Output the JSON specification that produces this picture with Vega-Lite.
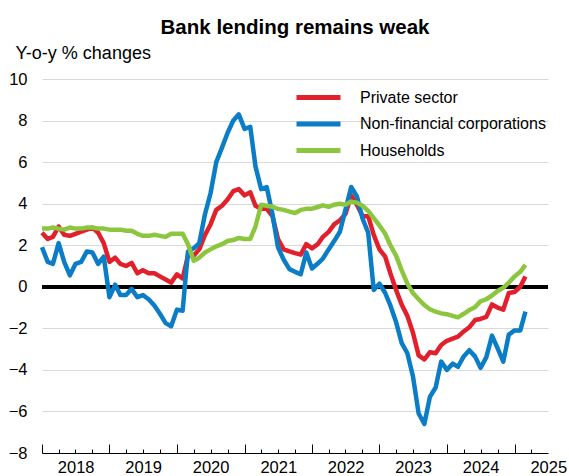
{
  "$schema": "https://vega.github.io/schema/vega-lite/v6.json",
  "width": 506,
  "height": 374,
  "autosize": "none",
  "padding": {"left": 42, "top": 79, "right": 21, "bottom": 23},
  "background": "white",
  "config": {"view": {"stroke": null}, "font": "Liberation Sans"},
  "title": {"text": "Bank lending remains weak", "fontSize": 20.5, "fontWeight": "bold", "font": "Liberation Sans", "color": "black", "anchor": "middle", "offset": 6},
  "data": {"values": [
{"date":"2018-01-01","series":"Private sector","value":2.6},{"date":"2018-02-01","series":"Private sector","value":2.3},{"date":"2018-03-01","series":"Private sector","value":2.4},{"date":"2018-04-01","series":"Private sector","value":2.9},{"date":"2018-05-01","series":"Private sector","value":2.5},{"date":"2018-06-01","series":"Private sector","value":2.45},{"date":"2018-07-01","series":"Private sector","value":2.55},{"date":"2018-08-01","series":"Private sector","value":2.65},{"date":"2018-09-01","series":"Private sector","value":2.75},{"date":"2018-10-01","series":"Private sector","value":2.85},{"date":"2018-11-01","series":"Private sector","value":2.6},{"date":"2018-12-01","series":"Private sector","value":2.1},
{"date":"2019-01-01","series":"Private sector","value":1.2},{"date":"2019-02-01","series":"Private sector","value":1.4},{"date":"2019-03-01","series":"Private sector","value":1.1},{"date":"2019-04-01","series":"Private sector","value":1.0},{"date":"2019-05-01","series":"Private sector","value":1.15},{"date":"2019-06-01","series":"Private sector","value":0.65},{"date":"2019-07-01","series":"Private sector","value":0.8},{"date":"2019-08-01","series":"Private sector","value":0.65},{"date":"2019-09-01","series":"Private sector","value":0.65},{"date":"2019-10-01","series":"Private sector","value":0.5},{"date":"2019-11-01","series":"Private sector","value":0.35},{"date":"2019-12-01","series":"Private sector","value":0.2},
{"date":"2020-01-01","series":"Private sector","value":0.6},{"date":"2020-02-01","series":"Private sector","value":0.4},{"date":"2020-03-01","series":"Private sector","value":1.5},{"date":"2020-04-01","series":"Private sector","value":1.5},{"date":"2020-05-01","series":"Private sector","value":1.8},{"date":"2020-06-01","series":"Private sector","value":2.5},{"date":"2020-07-01","series":"Private sector","value":3.0},{"date":"2020-08-01","series":"Private sector","value":3.7},{"date":"2020-09-01","series":"Private sector","value":3.9},{"date":"2020-10-01","series":"Private sector","value":4.2},{"date":"2020-11-01","series":"Private sector","value":4.6},{"date":"2020-12-01","series":"Private sector","value":4.7},
{"date":"2021-01-01","series":"Private sector","value":4.4},{"date":"2021-02-01","series":"Private sector","value":4.55},{"date":"2021-03-01","series":"Private sector","value":3.9},{"date":"2021-04-01","series":"Private sector","value":3.75},{"date":"2021-05-01","series":"Private sector","value":3.75},{"date":"2021-06-01","series":"Private sector","value":3.4},{"date":"2021-07-01","series":"Private sector","value":2.3},{"date":"2021-08-01","series":"Private sector","value":1.8},{"date":"2021-09-01","series":"Private sector","value":1.7},{"date":"2021-10-01","series":"Private sector","value":1.62},{"date":"2021-11-01","series":"Private sector","value":1.55},{"date":"2021-12-01","series":"Private sector","value":2.05},
{"date":"2022-01-01","series":"Private sector","value":1.85},{"date":"2022-02-01","series":"Private sector","value":2.05},{"date":"2022-03-01","series":"Private sector","value":2.4},{"date":"2022-04-01","series":"Private sector","value":2.64},{"date":"2022-05-01","series":"Private sector","value":3.0},{"date":"2022-06-01","series":"Private sector","value":3.2},{"date":"2022-07-01","series":"Private sector","value":3.5},{"date":"2022-08-01","series":"Private sector","value":4.4},{"date":"2022-09-01","series":"Private sector","value":3.95},{"date":"2022-10-01","series":"Private sector","value":3.4},{"date":"2022-11-01","series":"Private sector","value":3.4},{"date":"2022-12-01","series":"Private sector","value":2.5},
{"date":"2023-01-01","series":"Private sector","value":1.8},{"date":"2023-02-01","series":"Private sector","value":1.45},{"date":"2023-03-01","series":"Private sector","value":0.65},{"date":"2023-04-01","series":"Private sector","value":-0.15},{"date":"2023-05-01","series":"Private sector","value":-0.85},{"date":"2023-06-01","series":"Private sector","value":-1.4},{"date":"2023-07-01","series":"Private sector","value":-2.2},{"date":"2023-08-01","series":"Private sector","value":-3.3},{"date":"2023-09-01","series":"Private sector","value":-3.5},{"date":"2023-10-01","series":"Private sector","value":-3.15},{"date":"2023-11-01","series":"Private sector","value":-3.2},{"date":"2023-12-01","series":"Private sector","value":-2.8},
{"date":"2024-01-01","series":"Private sector","value":-2.6},{"date":"2024-02-01","series":"Private sector","value":-2.5},{"date":"2024-03-01","series":"Private sector","value":-2.4},{"date":"2024-04-01","series":"Private sector","value":-2.15},{"date":"2024-05-01","series":"Private sector","value":-1.95},{"date":"2024-06-01","series":"Private sector","value":-1.6},{"date":"2024-07-01","series":"Private sector","value":-1.55},{"date":"2024-08-01","series":"Private sector","value":-1.45},{"date":"2024-09-01","series":"Private sector","value":-0.85},{"date":"2024-10-01","series":"Private sector","value":-1.0},{"date":"2024-11-01","series":"Private sector","value":-1.1},{"date":"2024-12-01","series":"Private sector","value":-0.3},
{"date":"2025-01-01","series":"Private sector","value":-0.25},{"date":"2025-02-01","series":"Private sector","value":0.0},{"date":"2025-03-01","series":"Private sector","value":0.5},
{"date":"2018-01-01","series":"Non-financial corporations","value":1.9},{"date":"2018-02-01","series":"Non-financial corporations","value":1.2},{"date":"2018-03-01","series":"Non-financial corporations","value":1.1},{"date":"2018-04-01","series":"Non-financial corporations","value":2.1},{"date":"2018-05-01","series":"Non-financial corporations","value":1.2},{"date":"2018-06-01","series":"Non-financial corporations","value":0.55},{"date":"2018-07-01","series":"Non-financial corporations","value":1.1},{"date":"2018-08-01","series":"Non-financial corporations","value":1.2},{"date":"2018-09-01","series":"Non-financial corporations","value":1.7},{"date":"2018-10-01","series":"Non-financial corporations","value":1.65},{"date":"2018-11-01","series":"Non-financial corporations","value":1.1},{"date":"2018-12-01","series":"Non-financial corporations","value":1.45},
{"date":"2019-01-01","series":"Non-financial corporations","value":-0.5},{"date":"2019-02-01","series":"Non-financial corporations","value":0.1},{"date":"2019-03-01","series":"Non-financial corporations","value":-0.4},{"date":"2019-04-01","series":"Non-financial corporations","value":-0.4},{"date":"2019-05-01","series":"Non-financial corporations","value":-0.1},{"date":"2019-06-01","series":"Non-financial corporations","value":-0.5},{"date":"2019-07-01","series":"Non-financial corporations","value":-0.4},{"date":"2019-08-01","series":"Non-financial corporations","value":-0.6},{"date":"2019-09-01","series":"Non-financial corporations","value":-0.9},{"date":"2019-10-01","series":"Non-financial corporations","value":-1.3},{"date":"2019-11-01","series":"Non-financial corporations","value":-1.75},{"date":"2019-12-01","series":"Non-financial corporations","value":-1.9},
{"date":"2020-01-01","series":"Non-financial corporations","value":-1.1},{"date":"2020-02-01","series":"Non-financial corporations","value":-1.15},{"date":"2020-03-01","series":"Non-financial corporations","value":1.7},{"date":"2020-04-01","series":"Non-financial corporations","value":1.85},{"date":"2020-05-01","series":"Non-financial corporations","value":2.1},{"date":"2020-06-01","series":"Non-financial corporations","value":3.5},{"date":"2020-07-01","series":"Non-financial corporations","value":4.5},{"date":"2020-08-01","series":"Non-financial corporations","value":6.0},{"date":"2020-09-01","series":"Non-financial corporations","value":6.7},{"date":"2020-10-01","series":"Non-financial corporations","value":7.4},{"date":"2020-11-01","series":"Non-financial corporations","value":8.0},{"date":"2020-12-01","series":"Non-financial corporations","value":8.3},
{"date":"2021-01-01","series":"Non-financial corporations","value":7.6},{"date":"2021-02-01","series":"Non-financial corporations","value":7.7},{"date":"2021-03-01","series":"Non-financial corporations","value":5.8},{"date":"2021-04-01","series":"Non-financial corporations","value":4.7},{"date":"2021-05-01","series":"Non-financial corporations","value":4.8},{"date":"2021-06-01","series":"Non-financial corporations","value":3.5},{"date":"2021-07-01","series":"Non-financial corporations","value":1.9},{"date":"2021-08-01","series":"Non-financial corporations","value":1.3},{"date":"2021-09-01","series":"Non-financial corporations","value":0.85},{"date":"2021-10-01","series":"Non-financial corporations","value":0.72},{"date":"2021-11-01","series":"Non-financial corporations","value":0.6},{"date":"2021-12-01","series":"Non-financial corporations","value":1.65},
{"date":"2022-01-01","series":"Non-financial corporations","value":0.88},{"date":"2022-02-01","series":"Non-financial corporations","value":1.12},{"date":"2022-03-01","series":"Non-financial corporations","value":1.36},{"date":"2022-04-01","series":"Non-financial corporations","value":1.8},{"date":"2022-05-01","series":"Non-financial corporations","value":2.2},{"date":"2022-06-01","series":"Non-financial corporations","value":2.65},{"date":"2022-07-01","series":"Non-financial corporations","value":3.7},{"date":"2022-08-01","series":"Non-financial corporations","value":4.8},{"date":"2022-09-01","series":"Non-financial corporations","value":4.35},{"date":"2022-10-01","series":"Non-financial corporations","value":3.3},{"date":"2022-11-01","series":"Non-financial corporations","value":2.6},{"date":"2022-12-01","series":"Non-financial corporations","value":-0.15},
{"date":"2023-01-01","series":"Non-financial corporations","value":0.15},{"date":"2023-02-01","series":"Non-financial corporations","value":-0.3},{"date":"2023-03-01","series":"Non-financial corporations","value":-0.9},{"date":"2023-04-01","series":"Non-financial corporations","value":-1.7},{"date":"2023-05-01","series":"Non-financial corporations","value":-2.7},{"date":"2023-06-01","series":"Non-financial corporations","value":-3.2},{"date":"2023-07-01","series":"Non-financial corporations","value":-4.3},{"date":"2023-08-01","series":"Non-financial corporations","value":-6.1},{"date":"2023-09-01","series":"Non-financial corporations","value":-6.6},{"date":"2023-10-01","series":"Non-financial corporations","value":-5.3},{"date":"2023-11-01","series":"Non-financial corporations","value":-4.85},{"date":"2023-12-01","series":"Non-financial corporations","value":-3.6},
{"date":"2024-01-01","series":"Non-financial corporations","value":-4.0},{"date":"2024-02-01","series":"Non-financial corporations","value":-3.7},{"date":"2024-03-01","series":"Non-financial corporations","value":-3.85},{"date":"2024-04-01","series":"Non-financial corporations","value":-3.35},{"date":"2024-05-01","series":"Non-financial corporations","value":-3.05},{"date":"2024-06-01","series":"Non-financial corporations","value":-3.35},{"date":"2024-07-01","series":"Non-financial corporations","value":-3.9},{"date":"2024-08-01","series":"Non-financial corporations","value":-3.4},{"date":"2024-09-01","series":"Non-financial corporations","value":-2.35},{"date":"2024-10-01","series":"Non-financial corporations","value":-2.95},{"date":"2024-11-01","series":"Non-financial corporations","value":-3.6},{"date":"2024-12-01","series":"Non-financial corporations","value":-2.3},
{"date":"2025-01-01","series":"Non-financial corporations","value":-2.1},{"date":"2025-02-01","series":"Non-financial corporations","value":-2.1},{"date":"2025-03-01","series":"Non-financial corporations","value":-1.2},
{"date":"2018-01-01","series":"Households","value":2.8},{"date":"2018-02-01","series":"Households","value":2.8},{"date":"2018-03-01","series":"Households","value":2.85},{"date":"2018-04-01","series":"Households","value":2.8},{"date":"2018-05-01","series":"Households","value":2.75},{"date":"2018-06-01","series":"Households","value":2.85},{"date":"2018-07-01","series":"Households","value":2.8},{"date":"2018-08-01","series":"Households","value":2.8},{"date":"2018-09-01","series":"Households","value":2.85},{"date":"2018-10-01","series":"Households","value":2.85},{"date":"2018-11-01","series":"Households","value":2.8},{"date":"2018-12-01","series":"Households","value":2.8},
{"date":"2019-01-01","series":"Households","value":2.75},{"date":"2019-02-01","series":"Households","value":2.75},{"date":"2019-03-01","series":"Households","value":2.75},{"date":"2019-04-01","series":"Households","value":2.7},{"date":"2019-05-01","series":"Households","value":2.7},{"date":"2019-06-01","series":"Households","value":2.55},{"date":"2019-07-01","series":"Households","value":2.45},{"date":"2019-08-01","series":"Households","value":2.45},{"date":"2019-09-01","series":"Households","value":2.5},{"date":"2019-10-01","series":"Households","value":2.45},{"date":"2019-11-01","series":"Households","value":2.4},{"date":"2019-12-01","series":"Households","value":2.55},
{"date":"2020-01-01","series":"Households","value":2.55},{"date":"2020-02-01","series":"Households","value":2.55},{"date":"2020-03-01","series":"Households","value":2.05},{"date":"2020-04-01","series":"Households","value":1.25},{"date":"2020-05-01","series":"Households","value":1.4},{"date":"2020-06-01","series":"Households","value":1.65},{"date":"2020-07-01","series":"Households","value":1.8},{"date":"2020-08-01","series":"Households","value":1.95},{"date":"2020-09-01","series":"Households","value":2.05},{"date":"2020-10-01","series":"Households","value":2.2},{"date":"2020-11-01","series":"Households","value":2.25},{"date":"2020-12-01","series":"Households","value":2.35},
{"date":"2021-01-01","series":"Households","value":2.3},{"date":"2021-02-01","series":"Households","value":2.3},{"date":"2021-03-01","series":"Households","value":2.9},{"date":"2021-04-01","series":"Households","value":3.95},{"date":"2021-05-01","series":"Households","value":3.9},{"date":"2021-06-01","series":"Households","value":3.85},{"date":"2021-07-01","series":"Households","value":3.75},{"date":"2021-08-01","series":"Households","value":3.7},{"date":"2021-09-01","series":"Households","value":3.62},{"date":"2021-10-01","series":"Households","value":3.55},{"date":"2021-11-01","series":"Households","value":3.7},{"date":"2021-12-01","series":"Households","value":3.75},
{"date":"2022-01-01","series":"Households","value":3.76},{"date":"2022-02-01","series":"Households","value":3.84},{"date":"2022-03-01","series":"Households","value":3.92},{"date":"2022-04-01","series":"Households","value":3.85},{"date":"2022-05-01","series":"Households","value":3.95},{"date":"2022-06-01","series":"Households","value":4.0},{"date":"2022-07-01","series":"Households","value":3.95},{"date":"2022-08-01","series":"Households","value":4.1},{"date":"2022-09-01","series":"Households","value":4.05},{"date":"2022-10-01","series":"Households","value":3.9},{"date":"2022-11-01","series":"Households","value":3.65},{"date":"2022-12-01","series":"Households","value":3.3},
{"date":"2023-01-01","series":"Households","value":2.95},{"date":"2023-02-01","series":"Households","value":2.55},{"date":"2023-03-01","series":"Households","value":2.0},{"date":"2023-04-01","series":"Households","value":1.5},{"date":"2023-05-01","series":"Households","value":0.8},{"date":"2023-06-01","series":"Households","value":0.15},{"date":"2023-07-01","series":"Households","value":-0.3},{"date":"2023-08-01","series":"Households","value":-0.6},{"date":"2023-09-01","series":"Households","value":-0.88},{"date":"2023-10-01","series":"Households","value":-1.08},{"date":"2023-11-01","series":"Households","value":-1.2},{"date":"2023-12-01","series":"Households","value":-1.28},
{"date":"2024-01-01","series":"Households","value":-1.32},{"date":"2024-02-01","series":"Households","value":-1.4},{"date":"2024-03-01","series":"Households","value":-1.47},{"date":"2024-04-01","series":"Households","value":-1.3},{"date":"2024-05-01","series":"Households","value":-1.12},{"date":"2024-06-01","series":"Households","value":-0.98},{"date":"2024-07-01","series":"Households","value":-0.7},{"date":"2024-08-01","series":"Households","value":-0.6},{"date":"2024-09-01","series":"Households","value":-0.42},{"date":"2024-10-01","series":"Households","value":-0.2},{"date":"2024-11-01","series":"Households","value":-0.05},{"date":"2024-12-01","series":"Households","value":0.2},
{"date":"2025-01-01","series":"Households","value":0.5},{"date":"2025-02-01","series":"Households","value":0.72},{"date":"2025-03-01","series":"Households","value":1.05}
  ]},
  "layer": [
    {
      "mark": {"type": "rule", "color": "black", "strokeWidth": 3},
      "encoding": {"y": {"datum": 0, "type": "quantitative"}}
    },
    {
      "mark": {"type": "line", "strokeWidth": 4.5, "strokeJoin": "round"},
      "encoding": {
        "x": {
          "field": "date", "type": "temporal",
          "scale": {"type": "utc", "domain": [{"year": 2018, "month": 1, "date": 1, "utc": true}, {"year": 2025, "month": 7, "date": 1, "utc": true}]},
          "axis": {
            "title": null,
            "grid": false,
            "values": [
              {"year": 2018, "month": 1, "date": 1, "utc": true}, {"year": 2018, "month": 4, "date": 1, "utc": true}, {"year": 2018, "month": 7, "date": 1, "utc": true}, {"year": 2018, "month": 10, "date": 1, "utc": true},
              {"year": 2019, "month": 1, "date": 1, "utc": true}, {"year": 2019, "month": 4, "date": 1, "utc": true}, {"year": 2019, "month": 7, "date": 1, "utc": true}, {"year": 2019, "month": 10, "date": 1, "utc": true},
              {"year": 2020, "month": 1, "date": 1, "utc": true}, {"year": 2020, "month": 4, "date": 1, "utc": true}, {"year": 2020, "month": 7, "date": 1, "utc": true}, {"year": 2020, "month": 10, "date": 1, "utc": true},
              {"year": 2021, "month": 1, "date": 1, "utc": true}, {"year": 2021, "month": 4, "date": 1, "utc": true}, {"year": 2021, "month": 7, "date": 1, "utc": true}, {"year": 2021, "month": 10, "date": 1, "utc": true},
              {"year": 2022, "month": 1, "date": 1, "utc": true}, {"year": 2022, "month": 4, "date": 1, "utc": true}, {"year": 2022, "month": 7, "date": 1, "utc": true}, {"year": 2022, "month": 10, "date": 1, "utc": true},
              {"year": 2023, "month": 1, "date": 1, "utc": true}, {"year": 2023, "month": 4, "date": 1, "utc": true}, {"year": 2023, "month": 7, "date": 1, "utc": true}, {"year": 2023, "month": 10, "date": 1, "utc": true},
              {"year": 2024, "month": 1, "date": 1, "utc": true}, {"year": 2024, "month": 4, "date": 1, "utc": true}, {"year": 2024, "month": 7, "date": 1, "utc": true}, {"year": 2024, "month": 10, "date": 1, "utc": true},
              {"year": 2025, "month": 1, "date": 1, "utc": true}, {"year": 2025, "month": 4, "date": 1, "utc": true}
            ],
            "labelExpr": "utcmonth(datum.value) === 0 ? utcFormat(datum.value, '%Y') : ''",
            "labelOffset": 33.7,
            "labelOverlap": false,
            "labelFlush": false,
            "labelBound": false,
            "labelFontSize": 16.5,
            "labelFont": "Liberation Sans",
            "labelColor": "black",
            "labelPadding": 15.5,
            "tickSize": {"condition": {"test": "utcmonth(datum.value) === 0", "value": -9}, "value": -4},
            "tickColor": "black",
            "tickWidth": 1,
            "domainColor": "black",
            "domainWidth": 1
          }
        },
        "y": {
          "field": "value", "type": "quantitative",
          "scale": {"domain": [-8, 10], "nice": false, "zero": false},
          "axis": {
            "title": "Y-o-y % changes",
            "titleAngle": 0,
            "titleAlign": "left",
            "titleBaseline": "alphabetic",
            "titleX": -27,
            "titleY": -21,
            "titleFontSize": 18,
            "titleFontWeight": "normal",
            "titleFont": "Liberation Sans",
            "titleColor": "black",
            "values": [-8, -6, -4, -2, 0, 2, 4, 6, 8, 10],
            "domain": false,
            "ticks": false,
            "labelPadding": 15,
            "labelFontSize": 16.5,
            "labelFont": "Liberation Sans",
            "labelColor": "black",
            "grid": true,
            "gridColor": "#d9d9d9",
            "gridWidth": 1
          }
        },
        "color": {
          "field": "series", "type": "nominal",
          "scale": {"domain": ["Private sector", "Non-financial corporations", "Households"], "range": ["#E1202B", "#0A7DC6", "#8CC63F"]},
          "legend": {
            "title": null,
            "orient": "none",
            "legendX": 263,
            "legendY": 5,
            "symbolType": "M-2,0H2",
            "symbolSize": 484,
            "symbolStrokeWidth": 5,
            "rowPadding": 2.5,
            "labelFontSize": 16,
            "labelFont": "Liberation Sans",
            "labelColor": "black",
            "labelOffset": 28,
            "labelLimit": 400,
            "padding": 0
          }
        }
      }
    }
  ]
}
